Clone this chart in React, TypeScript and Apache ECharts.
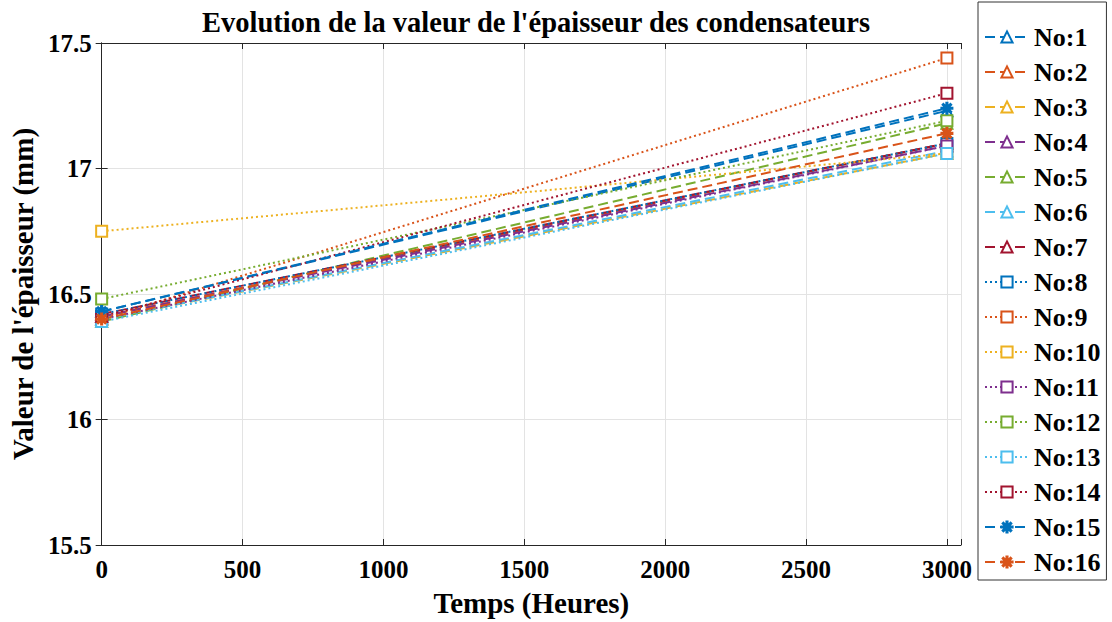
import React, { useEffect, useRef } from "react";
import * as echarts from "echarts";

const hours = [0, 3000];
const seriesNames = [
  "No:1", "No:2", "No:3", "No:4", "No:5", "No:6", "No:7", "No:8",
  "No:9", "No:10", "No:11", "No:12", "No:13", "No:14", "No:15", "No:16",
];
const startValues = [16.43, 16.41, 16.4, 16.41, 16.39, 16.4, 16.42, 16.42, 16.4, 16.75, 16.4, 16.48, 16.39, 16.41, 16.43, 16.4];
const endValues = [17.23, 17.1, 17.06, 17.09, 17.18, 17.07, 17.1, 17.1, 17.44, 17.06, 17.09, 17.19, 17.06, 17.3, 17.24, 17.14];
const yTicks = [15.5, 16, 16.5, 17, 17.5];
const xTicks = [0, 500, 1000, 1500, 2000, 2500, 3000];

const colors = ["#0072BD", "#D95319", "#EDB120", "#7E2F8E", "#77AC30", "#4DBEEE", "#A2142F"];
const asterisk =
  "path://M45 0 L55 0 L55 100 L45 100 Z M0 45 L100 45 L100 55 L0 55 Z M18 11 L89 82 L82 89 L11 18 Z M82 11 L89 18 L18 89 L11 82 Z";

const FONT = "'Liberation Serif', 'Times New Roman', serif";

export default function App() {
  const ref = useRef<HTMLDivElement>(null);
  useEffect(() => {
    if (!ref.current) return;
    const chart = echarts.init(ref.current, undefined, { renderer: "svg" });
    const series = seriesNames.map((name, i) => {
      const color = colors[i % colors.length];
      let symbol = "emptyTriangle";
      let dash: any = [10, 5];
      if (i >= 7 && i <= 13) {
        symbol = "emptyRect";
        dash = [2, 3];
      } else if (i >= 14) {
        symbol = asterisk;
      }
      return {
        name,
        type: "line",
        data: hours.map((h, k) => [h, k === 0 ? startValues[i] : endValues[i]]),
        symbol,
        symbolSize: 11,
        showSymbol: true,
        color,
        lineStyle: { color, width: 2, type: dash },
        itemStyle: { color, borderColor: color, borderWidth: 2 },
      };
    });
    const labelStyle = { color: "#000", fontFamily: FONT, fontWeight: "bold" as const, fontSize: 25 };
    chart.setOption({
      animation: false,
      backgroundColor: "#fff",
      title: {
        text: "Evolution de la valeur de l'épaisseur des condensateurs",
        left: 531,
        top: 3,
        textAlign: "center",
        textStyle: { color: "#000", fontFamily: FONT, fontWeight: "bold", fontSize: 28.5 },
      },
      grid: { left: 100, right: 151, top: 43, bottom: 76, containLabel: false },
      legend: {
        orient: "vertical",
        left: 978,
        top: 2,
        padding: [22, 6, 5, 6],
        itemGap: 9,
        itemWidth: 44,
        itemHeight: 14,
        borderColor: "#333",
        borderWidth: 1,
        backgroundColor: "#fff",
        textStyle: { color: "#000", fontFamily: FONT, fontWeight: "bold", fontSize: 26 },
        data: seriesNames,
      },
      xAxis: [
        {
          type: "value",
          min: 0,
          max: 3050,
          interval: 500,
          name: "Temps (Heures)",
          nameLocation: "middle",
          nameGap: 43,
          nameTextStyle: { ...labelStyle, fontSize: 29 },
          axisLine: { show: true, lineStyle: { color: "#262626", width: 1 } },
          axisTick: { show: true, inside: true, length: 6, lineStyle: { color: "#262626" } },
          axisLabel: {
            ...labelStyle,
            margin: 12,
            formatter: (v: number) => (xTicks.includes(v) ? String(v) : ""),
          },
          splitLine: { show: true, lineStyle: { color: "#e3e3e3", width: 1 } },
        },
        {
          type: "value",
          position: "top",
          min: 0,
          max: 3050,
          interval: 500,
          axisLine: { show: true, lineStyle: { color: "#262626", width: 1 } },
          axisTick: { show: true, inside: true, length: 6, lineStyle: { color: "#262626" } },
          axisLabel: { show: false },
          splitLine: { show: false },
        },
      ],
      yAxis: [
        {
          type: "value",
          min: 15.5,
          max: 17.5,
          interval: 0.5,
          name: "Valeur de l'épaisseur (mm)",
          nameLocation: "middle",
          nameRotate: 90,
          nameGap: 60,
          nameTextStyle: { ...labelStyle, fontSize: 29 },
          axisLine: { show: true, lineStyle: { color: "#262626", width: 1 } },
          axisTick: { show: true, inside: true, length: 6, lineStyle: { color: "#262626" } },
          axisLabel: {
            ...labelStyle,
            margin: 10,
            formatter: (v: number) => (yTicks.includes(v) ? String(v) : ""),
          },
          splitLine: { show: true, lineStyle: { color: "#e3e3e3", width: 1 } },
        },
        {
          type: "value",
          position: "right",
          min: 15.5,
          max: 17.5,
          interval: 0.5,
          axisLine: { show: true, lineStyle: { color: "#262626", width: 1 } },
          axisTick: { show: true, inside: true, length: 6, lineStyle: { color: "#262626" } },
          axisLabel: { show: false },
          splitLine: { show: false },
        },
      ],
      series,
    });
    return () => chart.dispose();
  }, []);
  return <div ref={ref} style={{ width: 1112, height: 622, position: "absolute", left: 0, top: 0 }} />;
}
